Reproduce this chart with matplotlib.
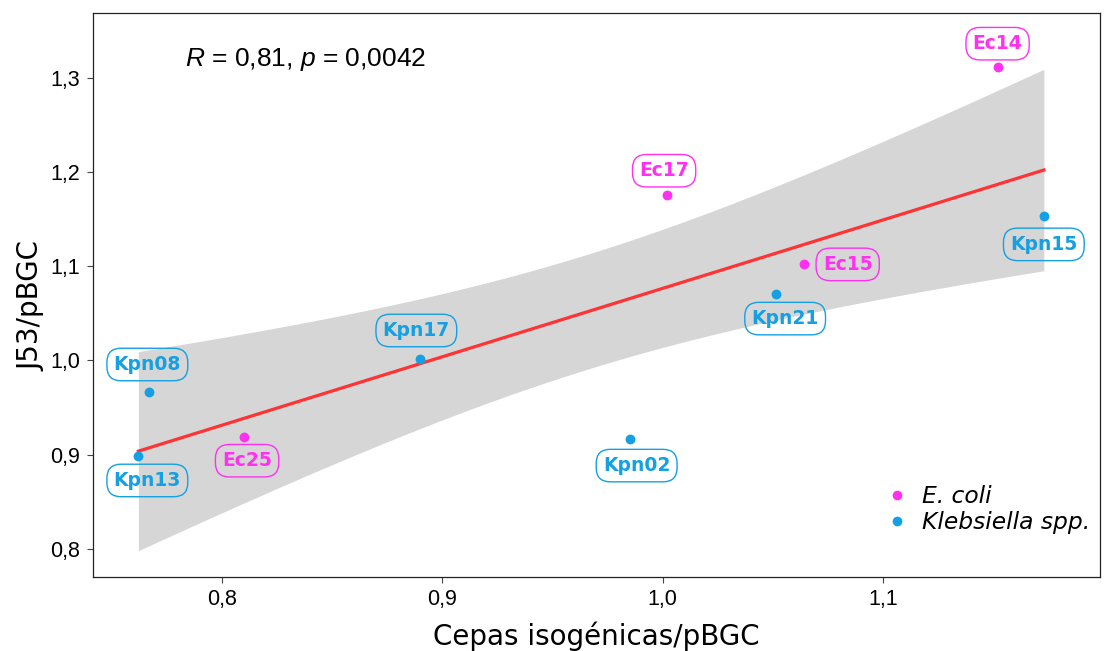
import numpy as np
import matplotlib as mpl
mpl.use('Agg')
import matplotlib.pyplot as plt
from matplotlib.lines import Line2D

mpl.rcParams['mathtext.fontset'] = 'custom'
mpl.rcParams['mathtext.rm'] = 'Liberation Sans'
mpl.rcParams['mathtext.it'] = 'Liberation Sans:italic'

# data
strains = ['Ec14', 'Ec17', 'Ec15', 'Ec25', 'Kpn15', 'Kpn21', 'Kpn17', 'Kpn08', 'Kpn13', 'Kpn02']
species = ['ec', 'ec', 'ec', 'ec', 'kp', 'kp', 'kp', 'kp', 'kp', 'kp']
x_iso = [1.152, 1.002, 1.064, 0.810, 1.173, 1.0515, 0.890, 0.767, 0.762, 0.985]
y_j53 = [1.312, 1.176, 1.102, 0.919, 1.153, 1.071, 1.001, 0.967, 0.898, 0.917]

xticks = [0.8, 0.9, 1.0, 1.1]
yticks = [0.8, 0.9, 1.0, 1.1, 1.2, 1.3]
colors = {'ec': '#FF30F0', 'kp': '#14A0E2'}
legend_names = {'ec': 'E. coli', 'kp': 'Klebsiella spp.'}

# label offsets (pixels, right/down) for the repelled labels
lab_off = [(0, -23), (-3, -24), (44, 0), (3, 24), (0, 28), (9, 25), (-4, -29), (-2, -27), (9, 24), (7, 27)]

x = np.array(x_iso)
y = np.array(y_j53)

fig = plt.figure(figsize=(11.04, 6.51), dpi=100)
ax = fig.add_axes([0.0842, 0.1137, 0.9122, 0.8663])

# linear fit + 95% CI
b, a = np.polyfit(x, y, 1)
xs = np.linspace(x.min(), x.max(), 100)
n = len(x)
resid = y - (a + b * x)
s = np.sqrt(np.sum(resid ** 2) / (n - 2))
sxx = np.sum((x - x.mean()) ** 2)
se = s * np.sqrt(1.0 / n + (xs - x.mean()) ** 2 / sxx)
tval = 2.306
yfit = a + b * xs
ax.fill_between(xs, yfit - tval * se, yfit + tval * se, color='#D6D6D6', lw=0, zorder=1)
ax.plot(xs, yfit, color='#FF3333', lw=2.3, zorder=2)

for i, name in enumerate(strains):
    c = colors[species[i]]
    ax.scatter(x[i], y[i], s=50, color=c, zorder=3, lw=0)
    dx, dy = lab_off[i]
    ax.annotate(name, (x[i], y[i]), xytext=(dx * 0.72, -dy * 0.72), textcoords='offset points',
                ha='center', va='center', color=c, fontsize=13.5, fontweight='bold',
                family='DejaVu Sans', zorder=4,
                bbox=dict(boxstyle='round,pad=0.36,rounding_size=0.75', fc='none', ec=c, lw=1))

ax.text(0.0914, 0.9167, r'$\mathit{R}$ = 0,81, $\mathit{p}$ = 0,0042', transform=ax.transAxes,
        fontsize=19, family='Liberation Sans', va='center')

handles = [Line2D([], [], ls='', marker='o', ms=7, color=colors[k], mec='none') for k in ('ec', 'kp')]
leg = ax.legend(handles, [legend_names[k] for k in ('ec', 'kp')], loc='lower right',
                frameon=False, handletextpad=0.45, borderaxespad=0, borderpad=0, labelspacing=0.12,
                handlelength=1.2, prop={'family': 'DejaVu Sans', 'style': 'italic', 'size': 16.8},
                bbox_to_anchor=(0.990, 0.076))

ax.set_xlim(0.7414, 1.1985)
ax.set_ylim(0.770, 1.369)
ax.set_xticks(xticks)
ax.set_yticks(yticks)
ax.set_xticklabels([('%.1f' % t).replace('.', ',') for t in xticks], family='Liberation Sans', fontsize=15.5)
ax.set_yticklabels([('%.1f' % t).replace('.', ',') for t in yticks], family='Liberation Sans', fontsize=15.5)
ax.tick_params(direction='out', length=4, width=0.8, color='#444444', pad=5)
for sp in ax.spines.values():
    sp.set_linewidth(0.9)
    sp.set_color('#222222')

ax.set_xlabel('Cepas isogénicas/pBGC', family='DejaVu Sans', fontsize=20)
ax.set_ylabel('J53/pBGC', family='DejaVu Sans', fontsize=20)
ax.xaxis.set_label_coords(0.5, -0.1046)
ax.xaxis.label.set_va('center')
ax.yaxis.set_label_coords(-0.0606, 0.48)
ax.yaxis.label.set_va('center')

fig.savefig('out.png', dpi=100)
